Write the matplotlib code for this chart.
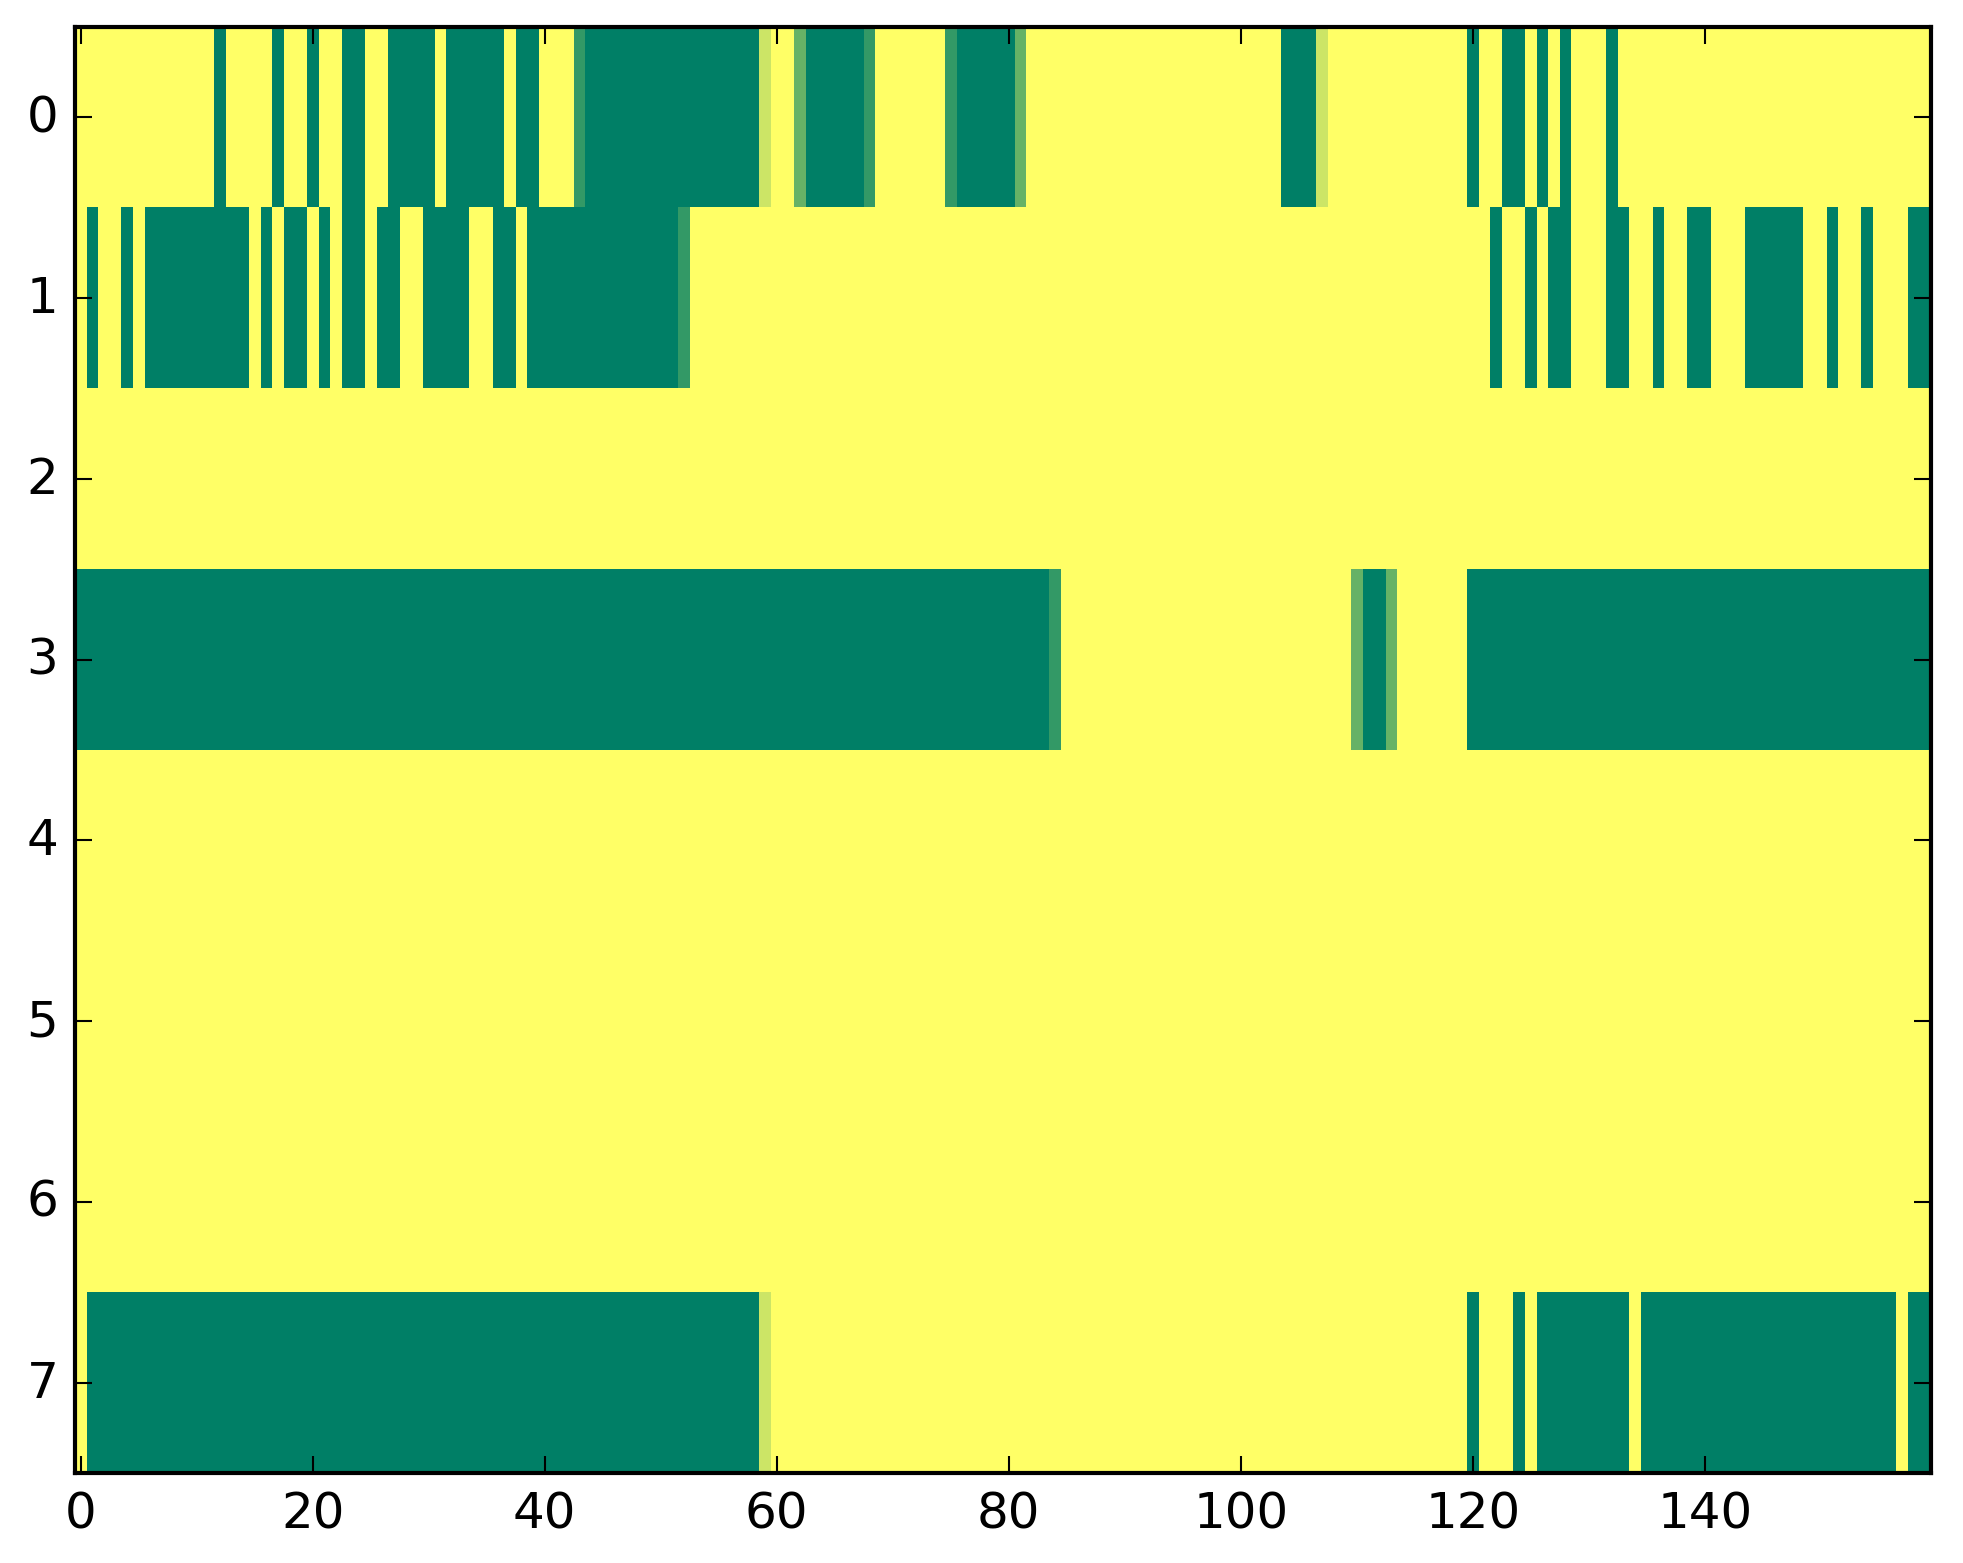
import numpy as np
import matplotlib
matplotlib.use("Agg")
import matplotlib.pyplot as plt

plt.style.use('classic')

# ---- data: 8 rows x 160 columns (0 = green, 1 = yellow in 'summer') ----
ones20 = [1] * 20
zeros20 = [0] * 20

row0 = ([1,1,1,1,1,1,1,1,1,1, 1,1,0,1,1,1,1,0,1,1] +
        [0,1,1,0,0,1,1,0,0,0, 0,1,0,0,0,0,0,1,0,0] +
        [1,1,1,.2,0,0,0,0,0,0, 0,0,0,0,0,0,0,0,0,.8] +
        [1,1,.4,0,0,0,0,0,.2,1, 1,1,1,1,1,.2,0,0,0,0] +
        [0,.4,1,1,1,1,1,1,1,1, 1,1,1,1,1,1,1,1,1,1] +
        [1,1,1,1,0,0,0,.8,1,1, 1,1,1,1,1,1,1,1,1,1] +
        [0,1,1,0,0,1,0,1,0,1, 1,1,0,1,1,1,1,1,1,1] +
        ones20)

row1 = ([1,0,1,1,0,1,0,0,0,0, 0,0,0,0,0,1,0,1,0,0] +
        [1,0,1,0,0,1,0,0,1,1, 0,0,0,0,1,1,0,0,1,0] +
        [0,0,0,0,0,0,0,0,0,0, 0,0,.2,1,1,1,1,1,1,1] +
        ones20 + ones20 + ones20 +
        [1,1,0,1,1,0,1,0,0,1, 1,1,0,0,1,1,0,1,1,0] +
        [0,1,1,1,0,0,0,0,0,1, 1,0,1,1,0,1,1,1,0,0])

row2 = ones20 * 8

row3 = (zeros20 + zeros20 + zeros20 + zeros20 +
        [0,0,0,0,.2,1,1,1,1,1, 1,1,1,1,1,1,1,1,1,1] +
        [1,1,1,1,1,1,1,1,1,1, .4,0,0,.4,1,1,1,1,1,1] +
        zeros20 + zeros20)

row4 = ones20 * 8
row5 = ones20 * 8
row6 = ones20 * 8

row7 = ([1,0,0,0,0,0,0,0,0,0, 0,0,0,0,0,0,0,0,0,0] +
        zeros20 +
        [0,0,0,0,0,0,0,0,0,0, 0,0,0,0,0,0,0,0,0,.8] +
        ones20 + ones20 + ones20 +
        [0,1,1,1,0,1,0,0,0,0, 0,0,0,0,1,0,0,0,0,0] +
        [0,0,0,0,0,0,0,0,0,0, 0,0,0,0,0,0,0,1,0,0])

data = np.array([row0, row1, row2, row3, row4, row5, row6, row7], dtype=float)

x_ticks = [0, 20, 40, 60, 80, 100, 120, 140]
y_ticks = [0, 1, 2, 3, 4, 5, 6, 7]

W, H, DPI = 1963, 1564, 300
fig = plt.figure(figsize=(W / DPI, H / DPI), dpi=DPI, facecolor='white')
ax = fig.add_axes([75 / W, (H - 1474) / H, (1931 - 75) / W, (1474 - 28) / H])

ax.imshow(data, cmap='summer', vmin=0, vmax=1, aspect='auto',
          interpolation='nearest')
ax.set_xticks(x_ticks)
ax.set_yticks(y_ticks)
ax.set_xlim(-0.5, data.shape[1] - 0.5)
ax.set_ylim(data.shape[0] - 0.5, -0.5)
ax.tick_params(labelsize=12)

fig.savefig('out.png', dpi=DPI, facecolor='white')
